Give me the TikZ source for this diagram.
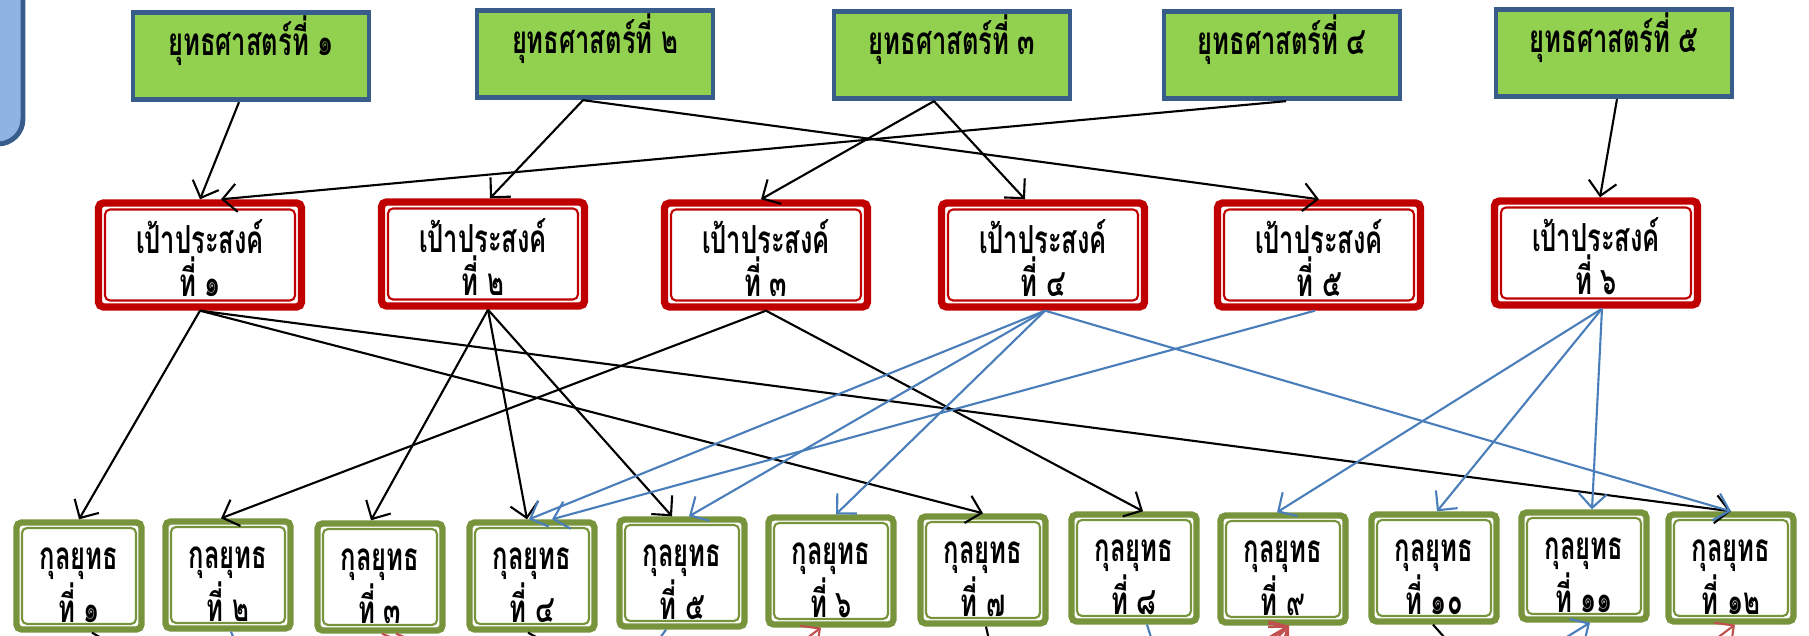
\documentclass[tikz,border=0pt]{standalone}
\usepackage{fontspec}
\newfontfamily\thaifont[Script=Thai,FakeStretch=0.66]{Loma}
\usetikzlibrary{arrows.meta}

\definecolor{stratgreen}{HTML}{92D050}
\definecolor{stratblue}{HTML}{385D8A}
\definecolor{sideblue}{HTML}{8EB4E3}
\definecolor{objred}{HTML}{C00000}
\definecolor{grpgreen}{HTML}{77933C}
\definecolor{linkblue}{HTML}{4A7EBB}
\definecolor{stubred}{HTML}{C0504D}

\begin{document}
\begin{tikzpicture}[
    strat/.style={draw=stratblue, fill=stratgreen, line width=1.4pt, minimum width=2.36cm, minimum height=0.85cm,
        text height=0.32cm, text depth=0.32cm, font=\thaifont\bfseries\fontsize{11}{12}\selectfont},
    obj/.style={draw=objred, fill=white, line width=2.1pt, rounded corners=0.5mm, minimum width=2.03cm, minimum height=1.04cm,
        inner sep=1pt, align=center, font=\thaifont\bfseries\fontsize{11}{11}\selectfont,
        path picture={\draw[objred, line width=0.6pt] ([shift={(0.065,0.065)}]path picture bounding box.south west) rectangle ([shift={(-0.065,-0.065)}]path picture bounding box.north east);}},
    grp/.style={draw=grpgreen, fill=white, line width=1.8pt, rounded corners=0.5mm, minimum width=1.25cm, minimum height=1.07cm,
        inner sep=1pt, align=center, font=\thaifont\bfseries\fontsize{11}{11.3}\selectfont,
        path picture={\draw[grpgreen, line width=0.6pt] ([shift={(0.055,0.055)}]path picture bounding box.south west) rectangle ([shift={(-0.055,-0.055)}]path picture bounding box.north east);}},
    link/.style={line width=0.6pt, -{Straight Barb[length=1.4mm,width=2.8mm]}}
]
\useasboundingbox (0,0) rectangle (18.09,6.36);
\fill[white] (0,0) rectangle (18.09,6.36);

% side box, cut by the frame
\draw[draw=stratblue, fill=sideblue, line width=1.4pt, rounded corners=0.25cm] (-1,4.92) rectangle (0.23,7);

% strategies
\node[strat] (s1) at (2.51,5.80) {ยุทธศาสตร์ที่ ๑};
\node[strat] (s2) at (5.95,5.82) {ยุทธศาสตร์ที่ ๒};
\node[strat] (s3) at (9.52,5.81) {ยุทธศาสตร์ที่ ๓};
\node[strat] (s4) at (12.82,5.81) {ยุทธศาสตร์ที่ ๔};
\node[strat] (s5) at (16.14,5.83) {ยุทธศาสตร์ที่ ๕};

% objectives
\foreach \n/\x/\y/\t in {1/2.00/3.81/๑, 2/4.83/3.82/๒, 3/7.66/3.81/๓, 4/10.43/3.81/๔, 5/13.19/3.81/๕, 6/15.96/3.83/๖}
    \node[obj] (o\n) at (\x,\y) {\rule{0pt}{0.40cm}เป้าประสงค์\\ที่ \t};

% groups
\foreach \n/\x/\y/\t in {1/0.79/0.60/๑, 2/2.28/0.61/๒, 3/3.80/0.59/๓, 4/5.32/0.60/๔, 5/6.82/0.63/๕, 6/8.31/0.65/๖,
        7/9.83/0.66/๗, 8/11.34/0.68/๘, 9/12.83/0.67/๙, 10/14.34/0.68/๑๐, 11/15.84/0.70/๑๑, 12/17.31/0.68/๑๒}
    \node[grp] (g\n) at (\x,\y) {\rule{0pt}{0.40cm}กุลยุทธ\\ที่ \t};

% strategy to objective
\draw[link] ([xshift=-0.12cm]s1.south) -- (o1.north);
\draw[link] ([xshift=-0.12cm]s2.south) -- ([xshift=0.07cm]o2.north);
\draw[link] ([xshift=-0.12cm]s2.south) -- (o5.north);
\draw[link] ([xshift=-0.18cm]s3.south) -- ([xshift=-0.05cm]o3.north);
\draw[link] ([xshift=-0.18cm]s3.south) -- ([xshift=-0.18cm]o4.north);
\draw[link] ([xshift=0.04cm]s4.south) -- ([xshift=0.21cm]o1.north);
\draw[link] ([xshift=0.03cm]s5.south) -- ([xshift=0.04cm]o6.north);

% objective to group
\draw[link] (o1.south) -- (g1.north);
\draw[link] (o1.south) -- (g7.north);
\draw[link] (o1.south) -- (g12.north);
\draw[link] ([xshift=0.05cm]o2.south) -- ([xshift=-0.09cm]g3.north);
\draw[link] ([xshift=0.05cm]o2.south) -- ([xshift=-0.05cm]g4.north);
\draw[link] ([xshift=0.05cm]o2.south) -- ([xshift=-0.10cm]g5.north);
\draw[link] (o3.south) -- ([xshift=-0.07cm]g2.north);
\draw[link] (o3.south) -- ([xshift=0.09cm]g8.north);
\draw[link, linkblue] ([xshift=0.02cm]o4.south) -- ([xshift=-0.03cm]g4.north);
\draw[link, linkblue] ([xshift=0.02cm]o4.south) -- ([xshift=0.07cm]g5.north);
\draw[link, linkblue] ([xshift=0.02cm]o4.south) -- ([xshift=0.05cm]g6.north);
\draw[link, linkblue] ([xshift=0.02cm]o4.south) -- (g12.north);
\draw[link, linkblue] ([xshift=-0.04cm]o5.south) -- ([xshift=0.20cm]g4.north);
\draw[link, linkblue] ([xshift=0.06cm]o6.south) -- ([xshift=-0.06cm]g9.north);
\draw[link, linkblue] ([xshift=0.06cm]o6.south) -- ([xshift=0.03cm]g10.north);
\draw[link, linkblue] ([xshift=0.06cm]o6.south) -- ([xshift=0.08cm]g11.north);

% lines leaving the frame below
\foreach \i/\n/\dx/\ex/\c in {1/1/0.13/1.5/black, 2/2/0.03/2.45/linkblue, 3/3/0.02/4.6/stubred, 4/3/0.16/4.75/stubred,
        5/4/-0.04/5.9/black, 6/5/-0.16/6.4/linkblue, 7/7/0.03/9.95/black, 8/8/0.13/11.6/linkblue, 9/10/-0.01/14.7/black}
{
    \coordinate (out\i) at (\ex,-0.3);
    \draw[line width=0.6pt, \c] ([xshift=\dx cm]g\n.south) -- (out\i);
}
\foreach \i/\n/\dx/\ex/\c in {1/6/-0.10/7.7/stubred, 2/9/0.06/12.2/stubred, 3/9/0.06/12.35/stubred, 4/9/0.06/12.5/stubred,
        5/11/0.06/15.2/linkblue, 6/12/0.04/16.8/stubred}
{
    \coordinate (in\i) at (\ex,-0.3);
    \draw[link, \c] (in\i) -- ([xshift=\dx cm]g\n.south);
}
\end{tikzpicture}
\end{document}
